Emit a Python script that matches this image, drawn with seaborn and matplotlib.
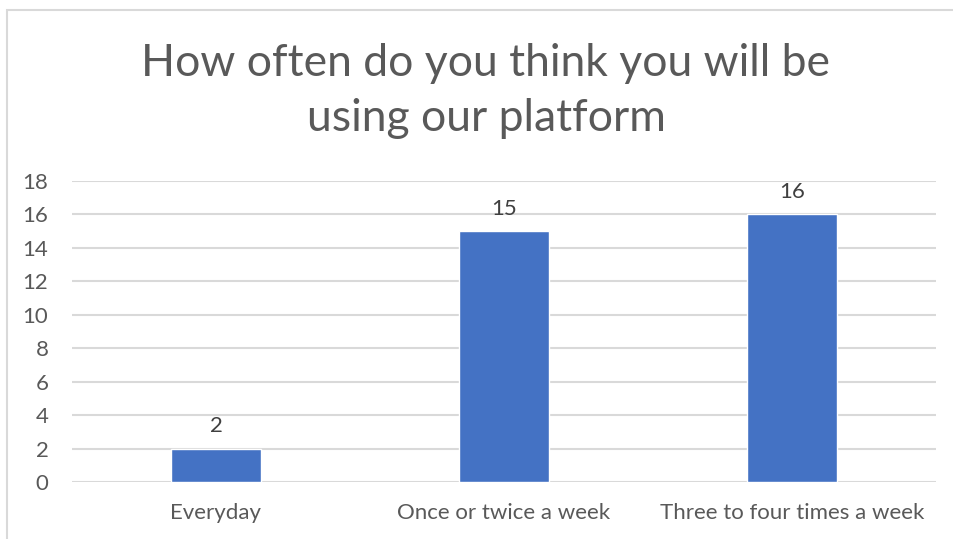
import matplotlib
matplotlib.use("Agg")
import matplotlib.pyplot as plt
import seaborn as sns
import pandas as pd
from matplotlib.patches import Rectangle

categories = ["Everyday", "Once or twice a week", "Three to four times a week"]
values = [2, 15, 16]
yticks = [0, 2, 4, 6, 8, 10, 12, 14, 16, 18]
title = "How often do you think you will be\nusing our platform"

sns.set_theme(style="white")
plt.rcParams['font.family'] = ['Lato', 'DejaVu Sans']

df = pd.DataFrame({"cat": categories, "val": values})

fig = plt.figure(figsize=(9.54, 5.39), dpi=100)
ax = fig.add_axes([72/954, 1-482/539, (936-72)/954, (482-181)/539])

sns.barplot(data=df, x="cat", y="val", color="#4472C4", width=0.3125,
            saturation=1, ax=ax, zorder=3)

ax.set_ylim(0, 18)
ax.set_yticks(yticks)
ax.set_yticklabels([str(t) for t in yticks])
ax.yaxis.grid(True, color="#D9D9D9", linewidth=1.5, zorder=0)
ax.set_axisbelow(True)
for s in ax.spines.values():
    s.set_visible(False)
ax.set_xlabel("")
ax.set_ylabel("")
ax.tick_params(axis="both", length=0, labelsize=16, labelcolor="#595959")
ax.tick_params(axis="x", pad=15)
ax.tick_params(axis="y", pad=17)

for c in ax.containers:
    ax.bar_label(c, labels=[str(v) for v in values], padding=9,
                 fontsize=16, color="#404040")

fig.text(486/954, 1-91/539, title, ha="center", va="center", fontsize=32,
         color="#595959", linespacing=1.45)

fig.patches.append(Rectangle((7/954, -0.1), 1.2, 1-10/539+0.1,
                             transform=fig.transFigure, fill=False,
                             edgecolor="#D9D9D9", linewidth=1.5))

fig.savefig("out.png", dpi=100)
